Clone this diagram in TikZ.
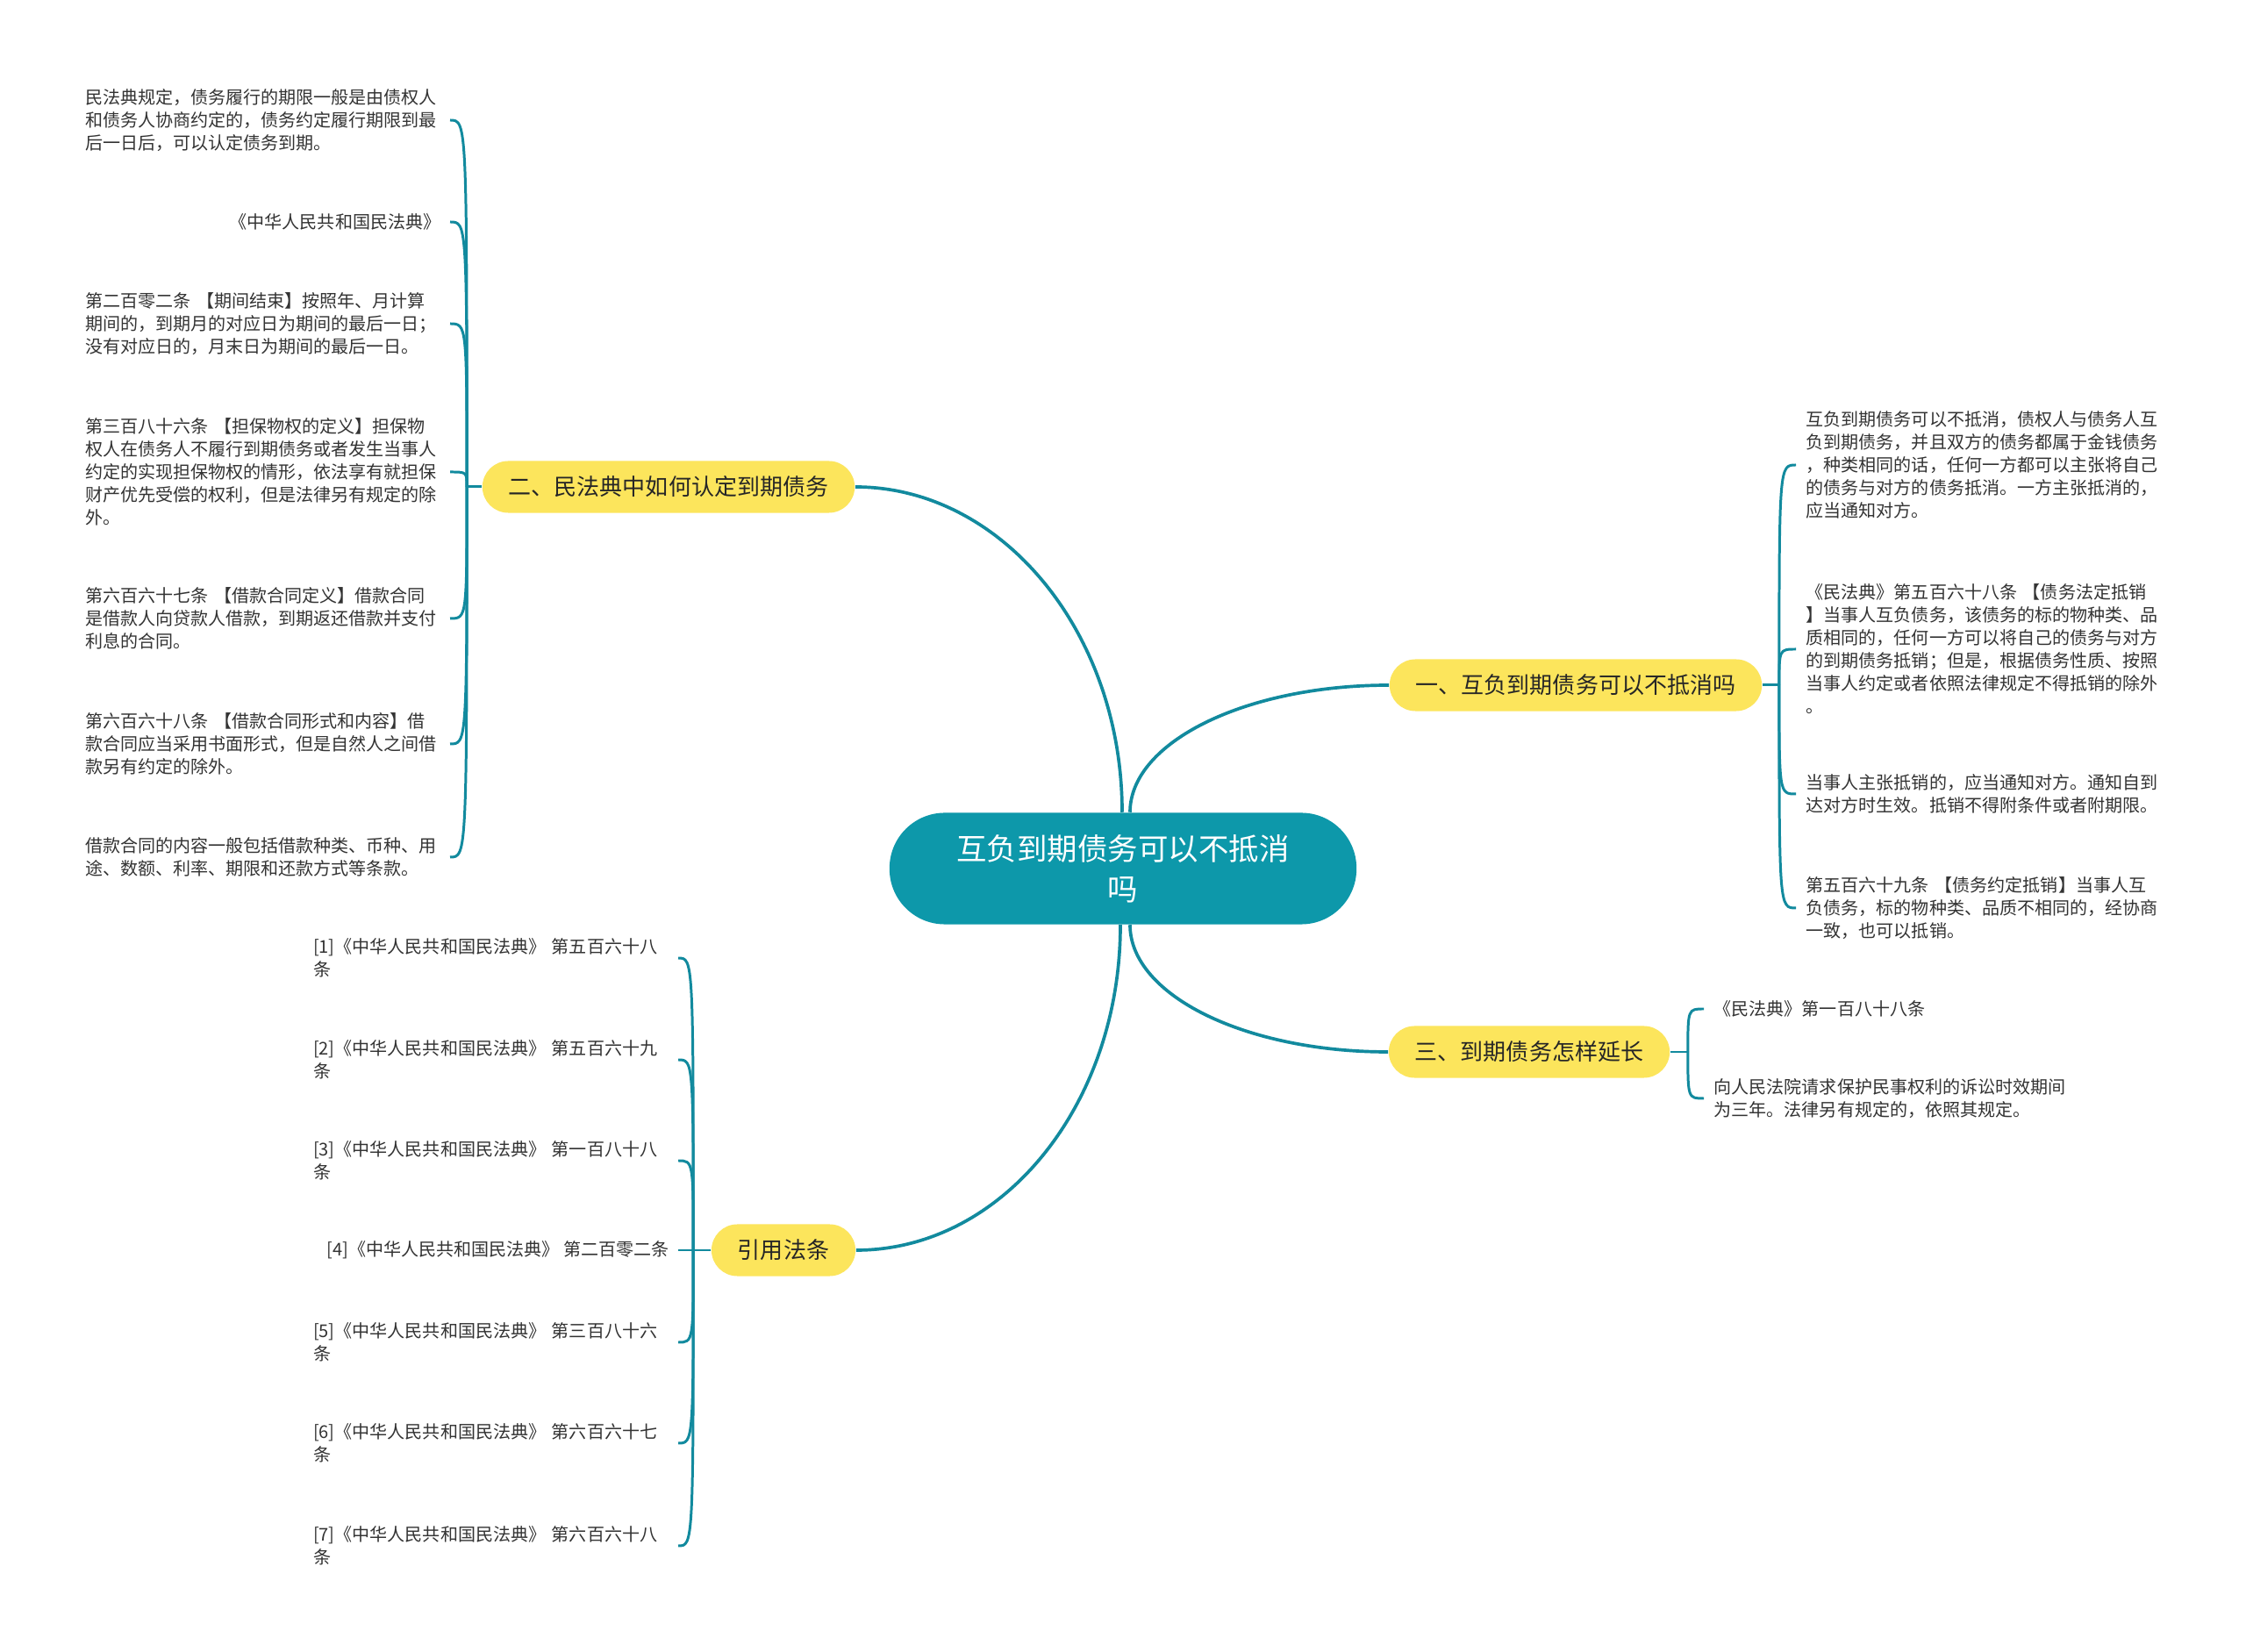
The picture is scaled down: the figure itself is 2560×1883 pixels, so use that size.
\documentclass[tikz,border=0pt]{standalone}
\usepackage{fontspec}
\setmainfont{Noto Sans CJK SC}
\usepackage{xcolor}
\usetikzlibrary{positioning, calc}

\definecolor{rootteal}{RGB}{13,152,170}
\definecolor{linkteal}{RGB}{18,138,158}
\definecolor{branchyellow}{RGB}{252,229,92}
\definecolor{leafgray}{RGB}{51,51,51}

\tikzset{
  root/.style={fill=rootteal, text=white, rounded corners=0.63cm, minimum width=5.32cm, minimum height=1.27cm, align=center, font=\fontsize{9.8pt}{13pt}\selectfont},
  branch/.style={fill=branchyellow, text=black!85, rounded corners=0.295cm, minimum height=0.59cm, inner xsep=0.3cm, inner ysep=0pt, font=\fontsize{7.4pt}{9pt}\selectfont},
  leaf/.style={text=leafgray, inner sep=0pt, align=left, font=\fontsize{5.7pt}{7.4pt}\selectfont},
  wide/.style={leaf, text width=4.05cm},
  mainlink/.style={draw=linkteal, line width=1.05pt},
  leaflink/.style={draw=linkteal, line width=0.85pt}
}

\begin{document}
\begin{tikzpicture}[x=0.01cm, y=-0.01cm]
  % page
  \fill[white] (0,0) rectangle (2560,1883);
  \useasboundingbox (0,0) rectangle (2560,1883);

  % centre and main branches
  \node[root] (root) at (1280,990) {互负到期债务可以不抵消\\吗};
  \node[branch] (b1) at (1796,781) {一、互负到期债务可以不抵消吗};
  \node[branch] (b2) at (762,555) {二、民法典中如何认定到期债务};
  \node[branch] (b3) at (1743,1199) {三、到期债务怎样延长};
  \node[branch] (b4) at (893,1425) {引用法条};

  \draw[mainlink] ([xshift=-0.01cm]root.north) .. controls +(0,-205) and +(167,0) .. (b2.east);
  \draw[mainlink] ([xshift=0.08cm]root.north) .. controls +(0,-80) and +(-163,0) .. (b1.west);
  \draw[mainlink] ([xshift=0.08cm]root.south) .. controls +(0,80) and +(-163,0) .. (b3.west);
  \draw[mainlink] ([xshift=-0.03cm]root.south) .. controls +(0,205) and +(167,0) .. (b4.east);

  % branch two: left leaves
  \node[wide, anchor=east] (l1) at (503,137) {民法典规定，债务履行的期限一般是由债权人\\和债务人协商约定的，债务约定履行期限到最\\后一日后，可以认定债务到期。};
  \node[leaf, anchor=east] (l2) at (503,253) {《中华人民共和国民法典》};
  \node[wide, anchor=east] (l3) at (503,369) {第二百零二条 【期间结束】按照年、月计算\\期间的，到期月的对应日为期间的最后一日；\\没有对应日的，月末日为期间的最后一日。};
  \node[wide, anchor=east] (l4) at (503,538) {第三百八十六条 【担保物权的定义】担保物\\权人在债务人不履行到期债务或者发生当事人\\约定的实现担保物权的情形，依法享有就担保\\财产优先受偿的权利，但是法律另有规定的除\\外。};
  \node[wide, anchor=east] (l5) at (503,705) {第六百六十七条 【借款合同定义】借款合同\\是借款人向贷款人借款，到期返还借款并支付\\利息的合同。};
  \node[wide, anchor=east] (l6) at (503,848) {第六百六十八条 【借款合同形式和内容】借\\款合同应当采用书面形式，但是自然人之间借\\款另有约定的除外。};
  \node[wide, anchor=east] (l7) at (503,977) {借款合同的内容一般包括借款种类、币种、用\\途、数额、利率、期限和还款方式等条款。};

  \draw[leaflink] (b2.west) -- ++(-17,0) coordinate (j2);
  \foreach \n in {l1,l2,l3,l4,l5,l6,l7}
    \draw[leaflink] (j2) .. controls (j2 |- \n.east) .. ([xshift=0.1cm]\n.east);

  % branch one: right leaves
  \node[wide, anchor=west] (r1) at (2058,530) {互负到期债务可以不抵消，债权人与债务人互\\负到期债务，并且双方的债务都属于金钱债务\\，种类相同的话，任何一方都可以主张将自己\\的债务与对方的债务抵消。一方主张抵消的，\\应当通知对方。};
  \node[wide, anchor=west] (r2) at (2058,740) {《民法典》第五百六十八条 【债务法定抵销\\】当事人互负债务，该债务的标的物种类、品\\质相同的，任何一方可以将自己的债务与对方\\的到期债务抵销；但是，根据债务性质、按照\\当事人约定或者依照法律规定不得抵销的除外\\。};
  \node[wide, anchor=west] (r3) at (2058,905) {当事人主张抵销的，应当通知对方。通知自到\\达对方时生效。抵销不得附条件或者附期限。};
  \node[wide, anchor=west] (r4) at (2058,1035) {第五百六十九条 【债务约定抵销】当事人互\\负债务，标的物种类、品质不相同的，经协商\\一致，也可以抵销。};

  \draw[leaflink] (b1.east) -- ++(19,0) coordinate (j1);
  \foreach \n in {r1,r2,r3,r4}
    \draw[leaflink] (j1) .. controls (j1 |- \n.west) .. ([xshift=-0.11cm]\n.west);

  % branch three
  \node[leaf, anchor=west] (m1) at (1953,1150) {《民法典》第一百八十八条};
  \node[wide, anchor=west] (m2) at (1953,1252) {向人民法院请求保护民事权利的诉讼时效期间\\为三年。法律另有规定的，依照其规定。};

  \draw[leaflink] (b3.east) -- ++(20,0) coordinate (j3);
  \foreach \n in {m1,m2}
    \draw[leaflink] (j3) .. controls (j3 |- \n.west) .. ([xshift=-0.11cm]\n.west);

  % cited articles
  \node[wide, anchor=east] (c1) at (763,1092) {[1]《中华人民共和国民法典》 第五百六十八\\条};
  \node[wide, anchor=east] (c2) at (763,1208) {[2]《中华人民共和国民法典》 第五百六十九\\条};
  \node[wide, anchor=east] (c3) at (763,1323) {[3]《中华人民共和国民法典》 第一百八十八\\条};
  \node[leaf, anchor=east] (c4) at (763,1425) {[4]《中华人民共和国民法典》 第二百零二条};
  \node[wide, anchor=east] (c5) at (763,1530) {[5]《中华人民共和国民法典》 第三百八十六\\条};
  \node[wide, anchor=east] (c6) at (763,1645) {[6]《中华人民共和国民法典》 第六百六十七\\条};
  \node[wide, anchor=east] (c7) at (763,1762) {[7]《中华人民共和国民法典》 第六百六十八\\条};

  \draw[leaflink] (b4.west) -- ++(-20,0) coordinate (j4);
  \foreach \n in {c1,c2,c3,c5,c6,c7}
    \draw[leaflink] (j4) .. controls (j4 |- \n.east) .. ([xshift=0.1cm]\n.east);
  \draw[leaflink] (j4) -- ([xshift=0.1cm]c4.east);
\end{tikzpicture}
\end{document}
